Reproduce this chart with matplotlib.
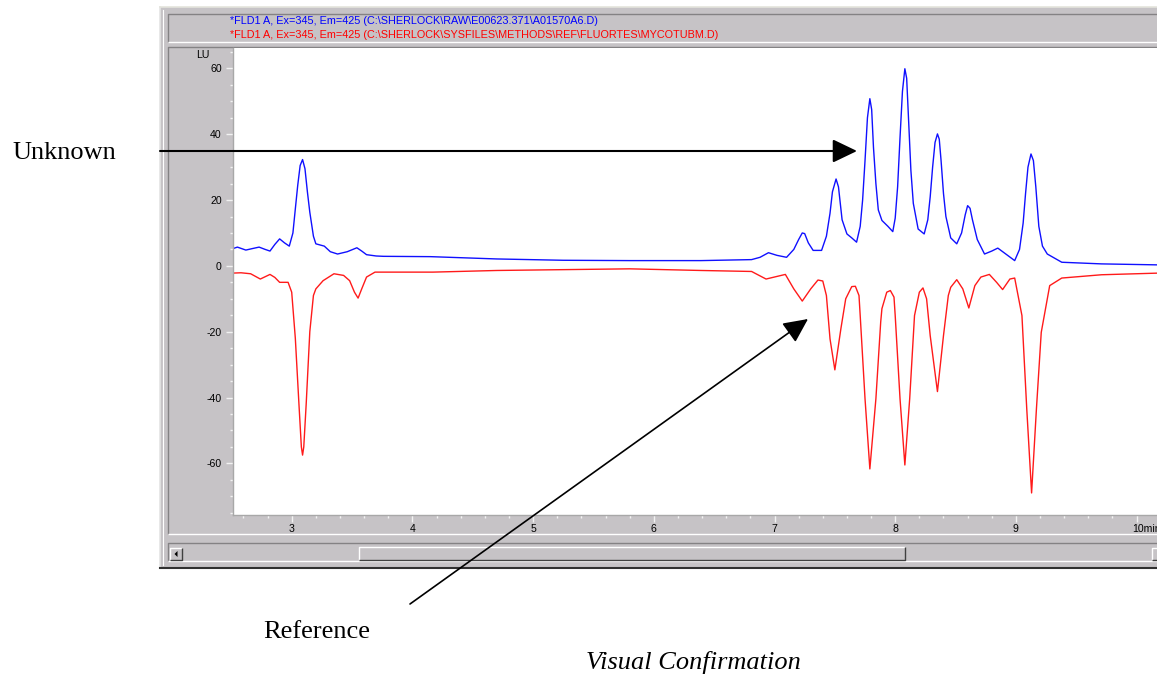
import matplotlib
matplotlib.use("Agg")
import matplotlib.pyplot as plt
from matplotlib.patches import Rectangle, FancyArrowPatch, Polygon
from matplotlib.patches import ArrowStyle
from matplotlib.ticker import MultipleLocator

# ---------------- data ----------------
unknown_time = [2.51, 2.55, 2.62, 2.68, 2.73, 2.78, 2.82, 2.86, 2.90, 2.94, 2.98, 3.01, 3.03,
                3.05, 3.07, 3.09, 3.11, 3.13, 3.15, 3.18, 3.20, 3.24, 3.27, 3.32, 3.38, 3.46,
                3.54, 3.58, 3.62, 3.70, 3.76, 4.15, 4.70, 5.25, 5.80, 6.39, 6.81, 6.88, 6.95,
                7.02, 7.10, 7.16, 7.20, 7.23, 7.25, 7.28, 7.32, 7.39, 7.43, 7.46, 7.48, 7.51,
                7.53, 7.56, 7.60, 7.64, 7.68, 7.71, 7.73, 7.75, 7.77, 7.79, 7.805, 7.82, 7.84,
                7.86, 7.89, 7.94, 7.98, 8.00, 8.02, 8.04, 8.06, 8.08, 8.095, 8.11, 8.13, 8.15,
                8.19, 8.24, 8.27, 8.29, 8.31, 8.33, 8.35, 8.365, 8.38, 8.40, 8.42, 8.46, 8.51,
                8.55, 8.58, 8.60, 8.62, 8.64, 8.68, 8.74, 8.80, 8.85, 8.92, 8.99, 9.03, 9.06,
                9.08, 9.10, 9.125, 9.145, 9.165, 9.19, 9.22, 9.26, 9.38, 9.71, 10.18]
unknown_lu = [5.2, 5.7, 4.8, 5.3, 5.7, 5.0, 4.5, 6.5, 8.2, 7.0, 6.0, 10.0, 17.3,
              24.5, 30.5, 32.3, 29.5, 22.5, 16.3, 9.0, 6.7, 6.3, 6.0, 4.3, 3.6, 4.3,
              5.5, 4.5, 3.4, 3.0, 2.9, 2.8, 2.1, 1.7, 1.6, 1.6, 1.9, 2.6, 4.0,
              3.2, 2.6, 5.0, 8.0, 10.0, 9.8, 7.0, 4.7, 4.7, 9.0, 16.0, 22.5, 26.4,
              24.0, 14.0, 9.7, 8.5, 7.2, 12.0, 20.0, 32.0, 45.0, 50.8, 47.5, 36.0, 25.0,
              17.0, 13.8, 12.0, 10.4, 14.5, 24.0, 39.0, 53.0, 59.9, 57.0, 45.0, 29.0, 19.0,
              11.2, 9.7, 14.0, 21.0, 30.0, 37.5, 40.1, 38.5, 32.0, 22.0, 15.0, 8.5, 6.7,
              10.0, 15.5, 18.3, 17.5, 14.0, 8.0, 3.6, 4.5, 5.4, 3.5, 1.6, 5.0, 13.0,
              22.0, 30.0, 34.0, 32.0, 24.0, 12.0, 6.0, 3.6, 1.1, 0.6, 0.3]

reference_time = [2.51, 2.58, 2.66, 2.74, 2.82, 2.86, 2.90, 2.97, 3.00, 3.03, 3.06, 3.08,
                  3.09, 3.10, 3.12, 3.15, 3.18, 3.20, 3.26, 3.35, 3.43, 3.48, 3.52, 3.55,
                  3.58, 3.62, 3.69, 4.17, 4.70, 5.80, 6.39, 6.81, 6.93, 7.09, 7.16, 7.23,
                  7.30, 7.36, 7.40, 7.43, 7.46, 7.50, 7.55, 7.59, 7.64, 7.67, 7.70, 7.71,
                  7.75, 7.79, 7.84, 7.88, 7.89, 7.93, 7.96, 7.99, 8.00, 8.04, 8.08, 8.12,
                  8.16, 8.20, 8.23, 8.26, 8.29, 8.35, 8.40, 8.44, 8.46, 8.51, 8.56, 8.61,
                  8.66, 8.71, 8.78, 8.84, 8.89, 8.95, 8.99, 9.05, 9.09, 9.13, 9.17, 9.21,
                  9.28, 9.38, 9.71, 10.18]
reference_lu = [-2.2, -2.1, -2.4, -4.0, -2.6, -3.5, -5.0, -5.0, -8.0, -22.0, -42.0, -55.0,
                -57.5, -55.0, -42.0, -20.0, -9.0, -7.0, -4.5, -2.4, -2.9, -4.5, -8.0, -9.8,
                -7.0, -3.4, -1.9, -1.9, -1.4, -0.9, -1.4, -1.7, -4.0, -2.6, -7.0, -10.7,
                -7.0, -4.3, -4.6, -9.0, -22.2, -31.6, -19.1, -10.0, -6.3, -6.2, -9.0, -15.1,
                -40.4, -61.7, -40.4, -17.0, -13.0, -8.0, -7.5, -9.5, -15.1, -40.4, -60.5, -40.4,
                -15.1, -8.0, -6.7, -10.0, -21.2, -38.2, -21.2, -9.0, -6.5, -4.2, -7.0, -12.8,
                -6.0, -3.4, -2.6, -5.0, -7.2, -4.0, -3.7, -15.1, -43.5, -69.0, -43.5, -20.2,
                -6.0, -3.7, -2.7, -2.2]

y_ticks = [-60, -40, -20, 0, 20, 40, 60]
x_ticks = [3, 4, 5, 6, 7, 8, 9]
x_tick_labels = ["3", "4", "5", "6", "7", "8", "9"]
header_unknown = r"*FLD1 A, Ex=345, Em=425 (C:\SHERLOCK\RAW\E00623.371\A01570A6.D)"
header_reference = r"*FLD1 A, Ex=345, Em=425 (C:\SHERLOCK\SYSFILES\METHODS\REF\FLUORTES\MYCOTUBM.D)"

# ---------------- figure ----------------
W, H = 1157, 677
fig = plt.figure(figsize=(W / 100, H / 100), dpi=100, facecolor="white")

GREY = "#c6c3c6"
DARK = "#848284"
LIGHT = "#ffffff"
UIFONT = "Liberation Sans"
SERIF = "Liberation Serif"
UISIZE = 7.6

bg = fig.add_axes([0, 0, 1, 1], zorder=0)
bg.set_xlim(0, W)
bg.set_ylim(H, 0)
bg.axis("off")


def bevel(ax, x0, y0, x1, y1, face=GREY, tl=DARK, br=LIGHT, lw=1.0, z=1):
    ax.add_patch(Rectangle((x0, y0), x1 - x0, y1 - y0, facecolor=face, edgecolor="none", zorder=z))
    ax.plot([x0, x0, x1], [y1, y0, y0], color=tl, lw=lw, zorder=z + 0.1, solid_capstyle="butt")
    ax.plot([x0, x1, x1], [y1, y1, y0], color=br, lw=lw, zorder=z + 0.1, solid_capstyle="butt")


# window
bg.add_patch(Rectangle((160, 7), 1010, 561, facecolor=GREY, edgecolor="none", zorder=0.5))
bg.plot([160, 160], [7, 568], color="#e4e4e4", lw=1.2, zorder=0.6)
bg.plot([160, 1170], [7, 7], color="#e4e4dc", lw=1.2, zorder=0.6)
bg.plot([160, 1170], [567.5, 567.5], color="#303030", lw=1.5, zorder=0.6)
bg.plot([163, 163], [10, 565], color="#ffffff", lw=0.8, zorder=0.6)

# header panel
bevel(bg, 168, 14, 1170, 42)
# chart panel
bevel(bg, 168, 47, 1170, 534)
# scroll area
bevel(bg, 168, 543, 1170, 561, face=GREY)
bevel(bg, 170, 548, 182, 560, face=GREY, tl=LIGHT, br="#404040", z=2)
bg.add_patch(Polygon([[174.5, 554], [177.5, 551], [177.5, 557]], closed=True,
                     facecolor="black", edgecolor="none", zorder=3))
bevel(bg, 359, 547, 905, 560, face=GREY, tl=LIGHT, br="#404040", z=2)
bevel(bg, 1152, 548, 1164, 560, face=GREY, tl=LIGHT, br="#404040", z=2)
bg.add_patch(Polygon([[1158, 551], [1161, 554], [1158, 557]], closed=True,
                     facecolor="black", edgecolor="none", zorder=3))

bg.text(230, 21, header_unknown, color="#0000ff", fontsize=7.8, family=UIFONT,
        ha="left", va="center", zorder=3)
bg.text(230, 35, header_reference, color="#ff0000", fontsize=7.8, family=UIFONT,
        ha="left", va="center", zorder=3)
bg.text(203, 55, "LU", color="black", fontsize=UISIZE, family=UIFONT, ha="center", va="center", zorder=3)

# ---------------- data axes ----------------
x0p, y0p, x1p, y1p = 232.5, 48, 1157, 515
ax = fig.add_axes([x0p / W, 1 - y1p / H, (x1p - x0p) / W, (y1p - y0p) / H], zorder=1)
ax.set_facecolor("white")
ax.plot(unknown_time, unknown_lu, color="#1010ff", lw=1.0, solid_joinstyle="round")
ax.plot(reference_time, reference_lu, color="#ff1a1a", lw=1.0, solid_joinstyle="round")

ax.set_xlim(2.5095, 10.169)
ax.set_ylim(-75.7, 66.2)
ax.set_xticks(x_ticks + [10])
ax.set_xticklabels(x_tick_labels + [""])
ax.xaxis.set_minor_locator(MultipleLocator(0.2))
ax.set_yticks(y_ticks)
ax.set_yticklabels([str(v) for v in y_ticks])
ax.yaxis.set_minor_locator(MultipleLocator(5))

for s in ["top", "right"]:
    ax.spines[s].set_visible(False)
for s in ["left", "bottom"]:
    ax.spines[s].set_color("#a8a8a8")
    ax.spines[s].set_linewidth(1.0)

ax.tick_params(axis="both", which="major", length=4.8, width=1, color="#f2f2f2",
               labelsize=UISIZE, labelcolor="black", direction="out")
ax.tick_params(axis="both", which="minor", length=2.4, width=1, color="#f2f2f2", direction="out")
ax.tick_params(axis="y", which="major", pad=3.0)
ax.tick_params(axis="x", which="major", pad=1.8)
for lbl in ax.get_xticklabels() + ax.get_yticklabels():
    lbl.set_family(UIFONT)

ax.annotate("10min", xy=(10, 0), xycoords=("data", "axes fraction"),
            xytext=(-3.5, -6.6), textcoords="offset points", ha="left", va="top",
            fontsize=UISIZE, family=UIFONT, annotation_clip=False)

# ---------------- foreground annotations ----------------
fg = fig.add_axes([0, 0, 1, 1], zorder=2)
fg.set_xlim(0, W)
fg.set_ylim(H, 0)
fg.axis("off")
fg.patch.set_alpha(0)

style = ArrowStyle("-|>", head_length=15, head_width=7.2)
fg.add_patch(FancyArrowPatch((160, 151), (857, 151), arrowstyle=style, mutation_scale=1,
                             shrinkA=0, shrinkB=0, color="black", lw=1.5))
fg.add_patch(FancyArrowPatch((410, 604), (808, 319), arrowstyle=style, mutation_scale=1,
                             shrinkA=0, shrinkB=0, color="black", lw=1.2))

fg.text(12, 153, "Unknown", family=SERIF, fontsize=19, ha="left", va="center")
fg.text(263, 632, "Reference", family=SERIF, fontsize=19, ha="left", va="center")
fg.text(586, 663, "Visual Confirmation", family=SERIF, fontsize=19, style="italic",
        ha="left", va="center")

fig.savefig("out.png", dpi=100, facecolor="white")
